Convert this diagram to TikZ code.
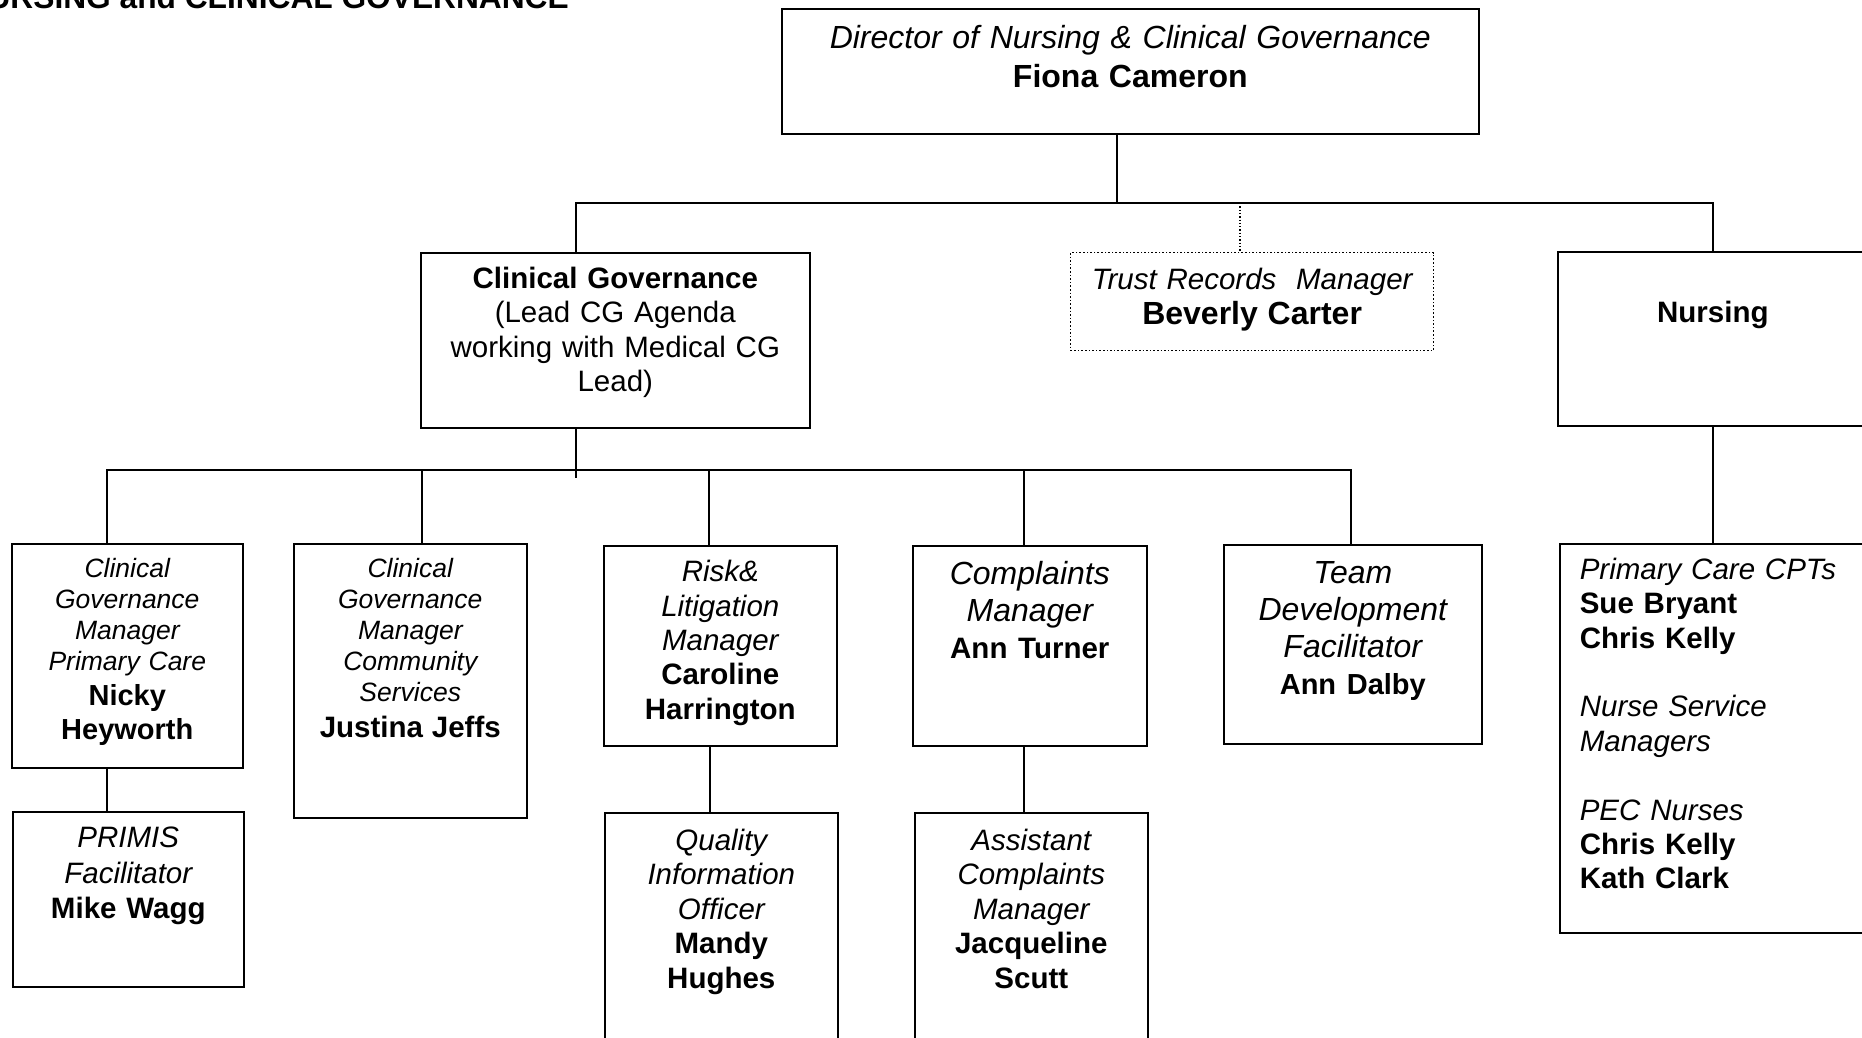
\documentclass[tikz,border=0pt]{standalone}
\usepackage{fontspec}
\setmainfont{Liberation Sans}

\newcommand{\role}{\itshape\mdseries}
\newcommand{\who}{\upshape\bfseries}
\newcommand{\plain}{\upshape\mdseries}
\newcommand{\fs}[2]{\fontsize{#1}{#2}\selectfont}

\begin{document}
\begin{tikzpicture}[x=1pt, y=-1pt,
    unit/.style={draw, line width=1.6pt, inner sep=0pt, anchor=north west, align=center},
    link/.style={line width=1.5pt},
    dotlink/.style={line width=1.3pt, dotted}
]
\useasboundingbox (0,0) rectangle (1862,1037);
\clip (0,0) rectangle (1862,1037);
\fill[white] (0,0) rectangle (1862,1037);

% Heading (cut by the page edge)
\node[anchor=base east, inner sep=0pt, font=\fs{31.7}{38}\bfseries] (title) at (569,8) {NURSING and CLINICAL GOVERNANCE};

% Director
\node[unit, text width=697pt, text height=39.4pt, text depth=85.6pt, font=\fs{32}{39.2}] (dir) at (781,8)
    {\role Director of Nursing \& Clinical Governance\\\who Fiona Cameron};

% Second level
\node[unit, text width=389pt, text height=35.6pt, text depth=139.4pt, font=\fs{29.5}{34.4}] (cg) at (420,252)
    {\who Clinical Governance\\\plain (Lead CG Agenda\\working with Medical CG\\Lead)};
\node[unit, dotted, line width=1.3pt, text width=363pt, text height=37pt, text depth=61pt, font=\fs{29.5}{35.3}] (trust) at (1070,252)
    {\role Trust Records~~Manager\\\who\fs{32}{35.3}Beverly Carter};
\node[unit, text width=310pt, text height=71pt, text depth=103pt, font=\fs{29.5}{34.4}] (nurs) at (1557,251)
    {\who Nursing};

% Third level
\node[unit, text width=231pt, text height=33.4pt, text depth=190.6pt, font=\fs{26.5}{31}] (cgmpc) at (11,543)
    {\role Clinical\\Governance\\Manager\\Primary Care\par\who\fs{29}{34.8}Nicky\\Heyworth\par};
\node[unit, text width=233pt, text height=33.4pt, text depth=240.6pt, font=\fs{26.5}{31}] (cgmcs) at (293,543)
    {\role Clinical\\Governance\\Manager\\Community\\Services\par\who\fs{29.5}{36.5}Justina Jeffs\par};
\node[unit, text width=233pt, text height=35.9pt, text depth=164.1pt, font=\fs{29.5}{34.4}] (risk) at (603,545)
    {\role Risk\&\\Litigation\\Manager\\\who Caroline\\Harrington};
\node[unit, text width=234pt, text height=39pt, text depth=161pt, font=\fs{32}{36.8}] (compl) at (912,545)
    {\role Complaints\\Manager\\\who\fs{29.5}{36.8}Ann Turner};
\node[unit, text width=258pt, text height=38.9pt, text depth=160.1pt, font=\fs{32}{36.8}] (team) at (1223,544)
    {\role Team\\Development\\Facilitator\\\who\fs{29}{36.8}Ann Dalby};
\node[unit, align=left, inner xsep=20pt, text width=266pt, text height=35.5pt, text depth=353.5pt, font=\fs{29.5}{34.4}] (nsub) at (1559,543)
    {\role Primary Care CPTs\\\who Sue Bryant\\Chris Kelly\\[34.4pt]\role Nurse Service\\Managers\\[34.4pt]PEC Nurses\\\who Chris Kelly\\Kath Clark};

% Fourth level
\node[unit, text width=231pt, text height=35.9pt, text depth=139.1pt, font=\fs{29.5}{35.5}] (primis) at (12,811)
    {\role PRIMIS\\Facilitator\\\who Mike Wagg};
\node[unit, text width=233pt, text height=37.3pt, text depth=200.7pt, font=\fs{29.5}{34.5}] (qio) at (604,812)
    {\role Quality\\Information\\Officer\\\who Mandy\\Hughes};
\node[unit, text width=233pt, text height=37.3pt, text depth=200.7pt, font=\fs{29.5}{34.5}] (acm) at (914,812)
    {\role Assistant\\Complaints\\Manager\\\who Jacqueline\\Scutt};

% Connectors
\coordinate (bus1) at (1117,203);
\coordinate (bus2) at (576,470);
\coordinate (rec) at (1240,203);

\draw[link] (dir.south -| bus1) -- (bus1);
\draw[link] (cg.north -| bus2) |- (bus1) -| (nurs.north);
\draw[dotlink] (rec) -- (rec |- trust.north);
\draw[link] (cg.south -| bus2) -- ([yshift=-8pt]bus2);
\foreach \n/\x in {cgmpc/107, cgmcs/422, risk/709, compl/1024, team/1351}
    \draw[link] (\n.north -| \x,0) |- (bus2);
\draw[link] (nurs.south) -- (nsub.north);
\foreach \a/\b/\x in {cgmpc/primis/107, risk/qio/710, compl/acm/1024}
    \draw[link] (\a.south -| \x,0) -- (\b.north -| \x,0);

\end{tikzpicture}
\end{document}
